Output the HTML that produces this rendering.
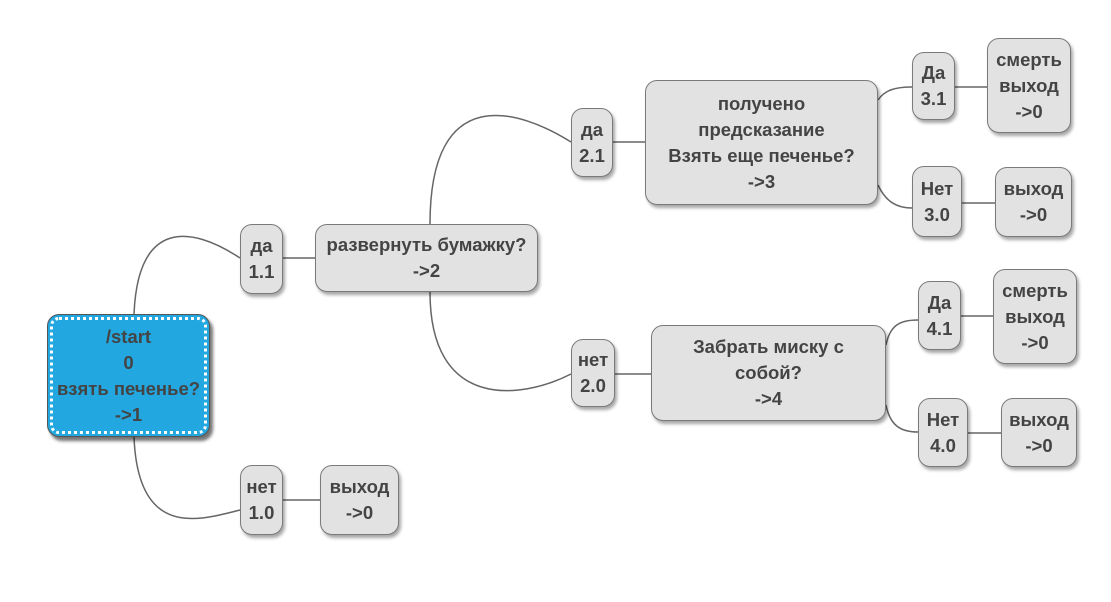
<!DOCTYPE html>
<html><head><meta charset="utf-8"><style>
body{margin:0;width:1111px;height:602px;background:#fff;position:relative;overflow:hidden;font-family:"Liberation Sans","DejaVu Sans",sans-serif}
.n{position:absolute;box-sizing:border-box;background:#e2e2e2;border:1px solid #7a7a7a;border-radius:12px;box-shadow:2px 3px 3px rgba(0,0,0,.35);display:flex;align-items:center;justify-content:center;text-align:center;font-weight:bold;font-size:18.5px;line-height:26px;color:#444;white-space:nowrap}
svg{position:absolute;left:0;top:0}
</style></head><body>
<svg width="1111" height="602" fill="none" stroke="#666" stroke-width="1.5">
<path d="M134 314 C138 220 190 225 240 258"/>
<path d="M134 437 C138 540 200 520 240 510"/>
<path d="M283 258 H315"/><path d="M283 500 H320"/>
<path d="M430 224 C430 80 520 110 571 142"/>
<path d="M430 292 C430 410 520 400 571 374"/>
<path d="M613 142 H645"/><path d="M615 374 H651"/>
<path d="M878 100 C885 90 895 87 912 87"/>
<path d="M878 185 C885 200 895 208 912 208"/>
<path d="M886 345 C890 325 900 320 918 320"/>
<path d="M886 405 C890 425 900 432 918 432"/>
<path d="M955 87 H987"/><path d="M962 203 H995"/><path d="M961 316 H993"/><path d="M968 433 H1001"/>
</svg>
<div class="n" style="left:47px;top:314px;width:163px;height:123px;background:#22a7e0;border:1px solid #555;outline:3px dotted #fff;outline-offset:-6px;box-shadow:3px 4px 3px rgba(0,0,0,.55)">/start<br>0<br>взять печенье?<br>->1</div>
<div class="n" style="left:240px;top:224px;width:43px;height:70px">да<br>1.1</div>
<div class="n" style="left:315px;top:224px;width:223px;height:68px">развернуть бумажку?<br>->2</div>
<div class="n" style="left:240px;top:465px;width:43px;height:70px">нет<br>1.0</div>
<div class="n" style="left:320px;top:465px;width:79px;height:70px">выход<br>->0</div>
<div class="n" style="left:571px;top:108px;width:42px;height:69px">да<br>2.1</div>
<div class="n" style="left:645px;top:80px;width:233px;height:125px">получено<br>предсказание<br>Взять еще печенье?<br>->3</div>
<div class="n" style="left:571px;top:339px;width:44px;height:68px">нет<br>2.0</div>
<div class="n" style="left:651px;top:325px;width:235px;height:96px">Забрать миску с<br>собой?<br>->4</div>
<div class="n" style="left:912px;top:52px;width:43px;height:68px">Да<br>3.1</div>
<div class="n" style="left:987px;top:38px;width:84px;height:95px">смерть<br>выход<br>->0</div>
<div class="n" style="left:912px;top:166px;width:50px;height:71px">Нет<br>3.0</div>
<div class="n" style="left:995px;top:167px;width:77px;height:70px">выход<br>->0</div>
<div class="n" style="left:918px;top:281px;width:43px;height:69px">Да<br>4.1</div>
<div class="n" style="left:993px;top:269px;width:84px;height:95px">смерть<br>выход<br>->0</div>
<div class="n" style="left:918px;top:398px;width:50px;height:69px">Нет<br>4.0</div>
<div class="n" style="left:1001px;top:398px;width:76px;height:69px">выход<br>->0</div>
</body></html>
